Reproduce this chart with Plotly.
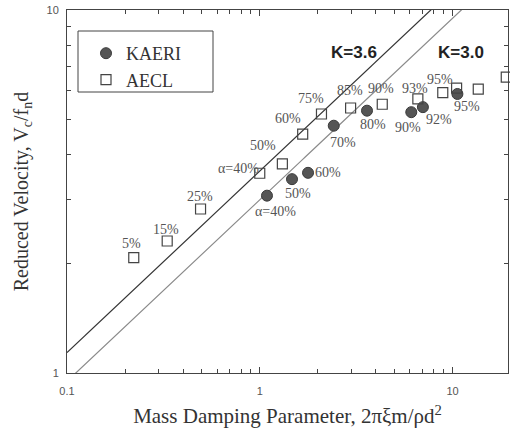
import numpy as np
import plotly.graph_objects as go

# ---- data ----
kaeri_x = [1.09, 1.47, 1.78, 2.42, 3.60, 6.11, 7.02, 10.6]
kaeri_y = [3.08, 3.42, 3.56, 4.80, 5.28, 5.23, 5.40, 5.87]
kaeri_lbl = ["α=40%", "50%", "60%", "70%", "80%", "90%", "92%", "95%"]

aecl_x = [0.222, 0.331, 0.493, 1.00, 1.31, 1.67, 2.09, 2.96, 4.32, 6.61, 8.9, 10.5, 13.6, 19.0]
aecl_y = [2.08, 2.31, 2.83, 3.55, 3.77, 4.55, 5.17, 5.37, 5.50, 5.69, 5.92, 6.09, 6.05, 6.53]
aecl_lbl = ["5%", "15%", "25%", "α=40%", "50%", "60%", "75%", "85%", "90%", "93%", "95%", "", "", ""]

k_values = [3.6, 3.0]
k_labels = ["K=3.6", "K=3.0"]
x_ticks = [0.1, 1, 10]
y_ticks = [1, 10]

# label offsets in pixels (dx, dy) -- styling only
kaeri_off = [(9, -16), (6, -14), (20, 0), (9, -17), (6, -14), (-3, -15), (16, -12), (10, -13)]
aecl_off = [(-2, 14), (-1, 12), (-1, 13), (-21, 5), (-19, 18), (-15, 16), (-10, 16), (-1, 18), (-1, 16), (-3, 10), (-3, 13),
            (0, 0), (0, 0), (0, 0)]

fig = go.Figure()

xs = np.logspace(-1, np.log10(20), 200)
line_styles = [dict(color="#333333", width=1.2), dict(color="#8a8a8a", width=1.2)]
for K, st in zip(k_values, line_styles):
    fig.add_trace(go.Scatter(x=xs, y=K * np.sqrt(xs), mode="lines", line=st,
                             showlegend=False, hoverinfo="skip"))

fig.add_trace(go.Scatter(x=kaeri_x, y=kaeri_y, mode="markers", name="KAERI",
                         marker=dict(symbol="circle", size=11, color="#555555",
                                     line=dict(color="#3a3a3a", width=1))))
fig.add_trace(go.Scatter(x=aecl_x, y=aecl_y, mode="markers", name="AECL",
                         marker=dict(symbol="square-open", size=10, color="#444444",
                                     line=dict(width=1.2)), cliponaxis=False))

lbl_font = dict(family="Liberation Serif, Times New Roman, serif", size=14, color="#555555")
for x, y, t, (dx, dy) in zip(kaeri_x, kaeri_y, kaeri_lbl, kaeri_off):
    if t:
        fig.add_annotation(x=np.log10(x), y=np.log10(y), text=t, showarrow=False,
                           xshift=dx, yshift=dy, font=lbl_font)
for x, y, t, (dx, dy) in zip(aecl_x, aecl_y, aecl_lbl, aecl_off):
    if t:
        fig.add_annotation(x=np.log10(x), y=np.log10(y), text=t, showarrow=False,
                           xshift=dx, yshift=dy, font=lbl_font)

# K labels
k_pos = [(3.1, 7.66), (11.1, 7.66)]
for (x, y), t in zip(k_pos, k_labels):
    fig.add_annotation(x=np.log10(x), y=np.log10(y), text="<b>" + t + "</b>", showarrow=False,
                       font=dict(family="Liberation Sans, Arial, sans-serif", size=17, color="#222222"))

minor_x = [v * d for d in (0.1, 1, 10) for v in range(2, 10) if v * d <= 20]
minor_y = [v for v in range(2, 10)]

axis_common = dict(type="log", showline=True, linecolor="#444444", linewidth=1, mirror="ticks",
                   ticks="inside", ticklen=6, tickcolor="#444444", showgrid=False, zeroline=False,
                   automargin=False,
                   tickfont=dict(family="Liberation Sans, Arial, sans-serif", size=11, color="#555555"))

fig.update_xaxes(**axis_common, range=[-1, np.log10(19.4)], tickvals=x_ticks, ticktext=["0.1", "1", "10"],
                 ticklabelstandoff=8,
                 minor=dict(tickvals=minor_x, ticks="inside", ticklen=4, tickcolor="#444444"),
                 title=dict(text="Mass Damping Parameter, 2πξm/ρd<sup>2</sup>", standoff=12,
                            font=dict(family="Liberation Serif, Times New Roman, serif", size=21, color="#333333")))
fig.update_yaxes(**axis_common, range=[0, 1], tickvals=y_ticks, ticktext=["1", "10"],
                 ticklabelstandoff=5,
                 minor=dict(tickvals=minor_y, ticks="inside", ticklen=4, tickcolor="#444444"),
                 title=dict(text="Reduced Velocity, V<sub>c</sub>/f<sub>n</sub>d", standoff=12,
                            font=dict(family="Liberation Serif, Times New Roman, serif", size=20, color="#333333")))

# legend frame
fig.add_shape(type="rect", xref="paper", yref="paper",
              x0=(78 - 67) / 441, x1=(213 - 67) / 441, y0=(373 - 92) / 363, y1=(373 - 31) / 363,
              line=dict(color="#444444", width=1), fillcolor="white", layer="below")

fig.update_layout(
    width=510, height=434,
    margin=dict(l=67, r=2, t=10, b=61),
    plot_bgcolor="white", paper_bgcolor="white",
    legend=dict(x=(86 - 67) / 441, y=(373 - 35) / 363, xanchor="left", yanchor="top",
                borderwidth=0, bgcolor="rgba(0,0,0,0)",
                font=dict(family="Liberation Serif, Times New Roman, serif", size=18, color="#333333"),
                itemwidth=30, tracegroupgap=2),
)

fig.write_html("out.html", config={"displayModeBar": False},
               post_script="document.body.style.margin='0';document.documentElement.style.overflow='hidden';")
